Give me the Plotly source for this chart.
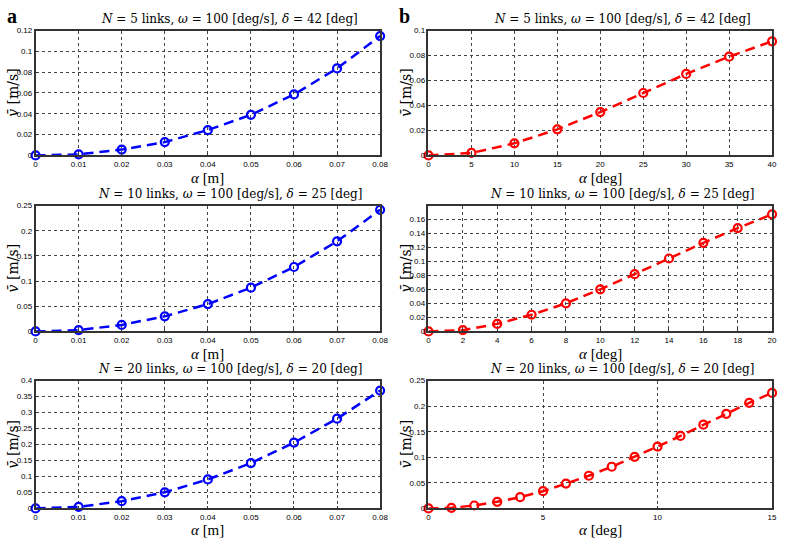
import plotly.graph_objects as go

# ---------------- data ----------------
alpha_m = [0, 0.01, 0.02, 0.03, 0.04, 0.05, 0.06, 0.07, 0.08]
v_a1 = [0, 0.001, 0.0056, 0.0128, 0.0244, 0.039, 0.0586, 0.0836, 0.1147]
v_a2 = [0, 0.0026, 0.013, 0.030, 0.0543, 0.087, 0.128, 0.179, 0.2415]
v_a3 = [0, 0.005, 0.0227, 0.0505, 0.0907, 0.142, 0.206, 0.281, 0.369]

alpha_b1 = [0, 5, 10, 15, 20, 25, 30, 35, 40]
v_b1 = [0, 0.002, 0.0097, 0.0209, 0.0347, 0.050, 0.0653, 0.0791, 0.0914]
alpha_b2 = [0, 2, 4, 6, 8, 10, 12, 14, 16, 18, 20]
v_b2 = [0, 0.0019, 0.0108, 0.0239, 0.0402, 0.0603, 0.0819, 0.1043, 0.1268, 0.1478, 0.1675]
alpha_b3 = [0, 1, 2, 3, 4, 5, 6, 7, 8, 9, 10, 11, 12, 13, 14, 15]
v_b3 = [0, 0.0013, 0.0058, 0.013, 0.022, 0.0337, 0.0486, 0.064, 0.0816, 0.101,
        0.121, 0.1418, 0.1639, 0.185, 0.2066, 0.226]

titles = [
    ("5", "42"), ("5", "42"),
    ("10", "25"), ("10", "25"),
    ("20", "20"), ("20", "20"),
]

x_ticks_m = [0, 0.01, 0.02, 0.03, 0.04, 0.05, 0.06, 0.07, 0.08]
y_ticks_a1 = [0, 0.02, 0.04, 0.06, 0.08, 0.1, 0.12]
y_ticks_a2 = [0, 0.05, 0.1, 0.15, 0.2, 0.25]
y_ticks_a3 = [0, 0.05, 0.1, 0.15, 0.2, 0.25, 0.3, 0.35, 0.4]
x_ticks_b1 = [0, 5, 10, 15, 20, 25, 30, 35, 40]
y_ticks_b1 = [0, 0.02, 0.04, 0.06, 0.08, 0.1]
x_ticks_b2 = [0, 2, 4, 6, 8, 10, 12, 14, 16, 18, 20]
y_ticks_b2 = [0, 0.02, 0.04, 0.06, 0.08, 0.1, 0.12, 0.14, 0.16]
x_ticks_b3 = [0, 5, 10, 15]
y_ticks_b3 = [0, 0.05, 0.1, 0.15, 0.2, 0.25]

# ---------------- layout geometry ----------------
W, H = 785, 540
col_px = [(34, 383), (432, 780)]
row_px = [(27, 154), (205, 333), (383, 513)]
xlabel_off = [23, 23, 22]

def xd(a, b):
    return [a / W, b / W]

def yd(t, b):
    return [1 - b / H, 1 - t / H]

panels = [
    (alpha_m, v_a1, "#0000ff", x_ticks_m, y_ticks_a1, [0, 0.08], [0, 0.12], 0, 0, "m"),
    (alpha_b1, v_b1, "#ff0000", x_ticks_b1, y_ticks_b1, [0, 40], [0, 0.1], 0, 1, "deg"),
    (alpha_m, v_a2, "#0000ff", x_ticks_m, y_ticks_a2, [0, 0.08], [0, 0.25], 1, 0, "m"),
    (alpha_b2, v_b2, "#ff0000", x_ticks_b2, y_ticks_b2, [0, 20], [0, 0.18], 1, 1, "deg"),
    (alpha_m, v_a3, "#0000ff", x_ticks_m, y_ticks_a3, [0, 0.08], [0, 0.4], 2, 0, "m"),
    (alpha_b3, v_b3, "#ff0000", x_ticks_b3, y_ticks_b3, [0, 15], [0, 0.25], 2, 1, "deg"),
]

fig = go.Figure()
layout = dict(
    width=W, height=H,
    margin=dict(l=0, r=0, t=0, b=0),
    paper_bgcolor="white", plot_bgcolor="white",
    showlegend=False,
)
annotations = []
serif = "DejaVu Serif, serif"
serif2 = "Liberation Serif, serif"
sans = "Liberation Sans, Arial, sans-serif"

def fmt(v):
    return "%g" % v

for i, (xs, ys, col, xt, yt, xr, yr, r, c, unit) in enumerate(panels):
    n = i + 1
    xa = "xaxis" if n == 1 else f"xaxis{n}"
    ya = "yaxis" if n == 1 else f"yaxis{n}"
    xref = "x" if n == 1 else f"x{n}"
    yref = "y" if n == 1 else f"y{n}"
    fig.add_trace(go.Scatter(
        x=xs, y=ys, xaxis=xref, yaxis=yref, mode="lines+markers",
        line=dict(color=col, width=2.5, dash="10px,6px"),
        marker=dict(symbol="circle-open", size=8, color=col, line=dict(width=2.2, color=col)),
        cliponaxis=False,
    ))
    x0, x1 = col_px[c]
    t0, b0 = row_px[r]
    common = dict(
        showline=True, linecolor="#333333", linewidth=1.5, mirror=True,
        showgrid=True, gridcolor="#444444", gridwidth=1, griddash="3px,3px",
        zeroline=False, ticks="inside", ticklen=3, tickcolor="#333333",
        tickfont=dict(family=sans, size=8, color="black"),
    )
    layout[xa] = dict(common, domain=xd(x0, x1), anchor=yref, range=xr,
                      tickvals=xt, ticktext=[fmt(v) for v in xt])
    layout[ya] = dict(common, domain=yd(t0, b0), anchor=xref, range=yr,
                      tickvals=yt, ticktext=[fmt(v) for v in yt])
    N, d = titles[i]
    tcx = (x0 + x1) / 2 + 22
    annotations.append(dict(
        xref="paper", yref="paper", x=tcx / W, y=1 - (t0 - 12) / H,
        text=f"<i>N</i> = {N} links, <i>ω</i> = 100 [deg/s], <i>δ</i> = {d} [deg]",
        showarrow=False, font=dict(family=serif, size=12, color="black"),
        xanchor="center", yanchor="middle",
    ))
    annotations.append(dict(
        xref="paper", yref="paper", x=(x0 + x1) / 2 / W, y=1 - (b0 + xlabel_off[r]) / H,
        text=f"<i>α</i> [{unit}]",
        showarrow=False, font=dict(family=serif2, size=15, color="black"),
        xanchor="center", yanchor="middle",
    ))
    annotations.append(dict(
        xref="paper", yref="paper", x=(x0 - 23) / W, y=1 - (t0 + b0) / 2 / H,
        text="<i>v̄</i> [m/s]", textangle=-90,
        showarrow=False, font=dict(family=serif, size=14, color="black"),
        xanchor="center", yanchor="middle",
    ))

annotations.append(dict(xref="paper", yref="paper", x=3 / W, y=1 - 12 / H, text="<b>a</b>",
                        showarrow=False, font=dict(family=serif2, size=20, color="black"),
                        xanchor="left", yanchor="middle"))
annotations.append(dict(xref="paper", yref="paper", x=400 / W, y=1 - 12 / H, text="<b>b</b>",
                        showarrow=False, font=dict(family=serif2, size=20, color="black"),
                        xanchor="left", yanchor="middle"))
layout["annotations"] = annotations
fig.update_layout(**layout)
fig.write_html("out.html", config={"displayModeBar": False},
               post_script="document.body.style.margin='0';document.body.style.padding='0';")
